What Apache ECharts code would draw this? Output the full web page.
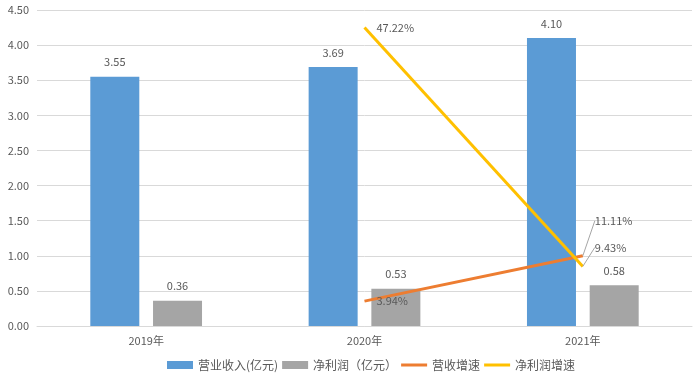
<!DOCTYPE html>
<html><head><meta charset="utf-8">
<script src="https://cdn.jsdelivr.net/npm/echarts@6/dist/echarts.min.js"></script>
<style>html,body{margin:0;padding:0;background:#fff}#c{width:699px;height:379px}</style>
</head><body><div id="c"></div>
<script>
const categories = ['2019年', '2020年', '2021年'];
const revenue = [3.55, 3.69, 4.10];
const profit = [0.36, 0.53, 0.58];
const revenueGrowth = [null, 3.94, 11.11];
const profitGrowth = [null, 47.22, 9.43];
const yTicks = {min: 0, max: 4.5, interval: 0.5};

const font = '"Noto Sans CJK SC", "Microsoft YaHei", sans-serif';
const txt = '#595959';
const lineIcon = 'path://M0,0 L26,0 L26,3 L0,3 Z';
const leader = {show: true, lineStyle: {color: '#a5a5a5', width: 1}};
const withLeader = arr => arr.map((v, i) => i === arr.length - 1 ? {value: v, labelLine: leader} : v);
const chart = echarts.init(document.getElementById('c'), null, {renderer: 'canvas'});
chart.setOption({
  animation: false,
  textStyle: {fontFamily: font},
  grid: {left: 37, right: 7, top: 10, bottom: 53},
  legend: {
    bottom: 3, left: 162, itemWidth: 26, itemHeight: 8, itemGap: 4,
    textStyle: {color: txt, fontSize: 12, fontFamily: font},
    data: [
      {name: '营业收入(亿元)', icon: 'rect'},
      {name: '净利润（亿元）', icon: 'rect'},
      {name: '营收增速', icon: lineIcon},
      {name: '净利润增速', icon: lineIcon}
    ]
  },
  xAxis: {
    type: 'category', data: categories,
    axisLine: {lineStyle: {color: '#d9d9d9'}},
    axisTick: {show: false},
    axisLabel: {color: txt, fontSize: 11, margin: 9}
  },
  yAxis: [{
    type: 'value', min: yTicks.min, max: yTicks.max, interval: yTicks.interval,
    axisLabel: {color: txt, fontSize: 11, margin: 8, formatter: v => v.toFixed(2)},
    splitLine: {lineStyle: {color: '#d9d9d9'}},
    axisLine: {show: false}, axisTick: {show: false}
  }, {
    type: 'value', min: 0, max: 50, show: false, splitLine: {show: false}
  }],
  series: [{
    name: '营业收入(亿元)', type: 'bar', data: revenue, barWidth: 49, barGap: '28%',
    itemStyle: {color: '#5b9bd5'},
    label: {show: true, position: 'top', distance: 9, color: txt, fontSize: 11, formatter: p => p.value.toFixed(2)}
  }, {
    name: '净利润（亿元）', type: 'bar', data: profit, barWidth: 49,
    itemStyle: {color: '#a5a5a5'},
    label: {show: true, position: 'top', distance: 9, color: txt, fontSize: 11, formatter: p => p.value.toFixed(2)}
  }, {
    name: '营收增速', type: 'line', yAxisIndex: 1, data: withLeader(revenueGrowth),
    symbol: 'circle', symbolSize: 0, showSymbol: true,
    lineStyle: {color: '#ed7d31', width: 3}, itemStyle: {color: '#ed7d31'},
    label: {show: true, position: 'right', distance: 12, color: txt, fontSize: 11, formatter: p => p.value.toFixed(2) + '%'},
    labelLine: {show: false},
    labelLayout: p => p.dataIndex === 2 ? {dy: -35} : {}
  }, {
    name: '净利润增速', type: 'line', yAxisIndex: 1, data: withLeader(profitGrowth),
    symbol: 'circle', symbolSize: 0, showSymbol: true,
    lineStyle: {color: '#ffc000', width: 3}, itemStyle: {color: '#ffc000'},
    label: {show: true, position: 'right', distance: 12, color: txt, fontSize: 11, formatter: p => p.value.toFixed(2) + '%'},
    labelLine: {show: false},
    labelLayout: p => p.dataIndex === 2 ? {dy: -19} : {}
  }]
});
</script></body></html>
